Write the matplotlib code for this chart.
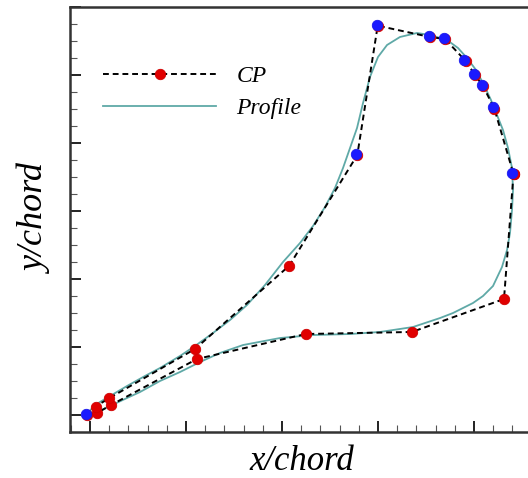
"""
Blade section: control polygon and fitted profile (x/chord vs y/chord).
"""

import matplotlib
matplotlib.use("Agg")
import matplotlib.pyplot as plt
import matplotlib.transforms as mtransforms
from matplotlib.ticker import MultipleLocator, NullFormatter

# ── Data ───────────────────────────────────────────────────────────────────
# control polygon, closed loop starting at the trailing-edge corner
cp_x = [0.8823, 0.8625, 0.6708, 0.4494, 0.2229, 0.0438, 0.0146, -0.0056,
        0.0115, 0.0406, 0.2188, 0.4152, 0.5569, 0.5994, 0.7083, 0.7396,
        0.7827, 0.8021, 0.8188, 0.8423, 0.8823]
cp_y = [0.3544, 0.1706, 0.1221, 0.1191, 0.0824, 0.0147, 0.0029, 0.0000,
        0.0125, 0.0250, 0.0971, 0.2196, 0.3824, 0.5725, 0.5559, 0.5529,
        0.5206, 0.5000, 0.4838, 0.4507, 0.3544]

# control points that are free in the optimisation (drawn blue)
free_x = [-0.0056, 0.5569, 0.5994, 0.7083, 0.7396, 0.7827, 0.8021, 0.8188,
          0.8423, 0.8823]
free_y = [0.0000, 0.3824, 0.5725, 0.5559, 0.5529, 0.5206, 0.5000, 0.4838,
          0.4507, 0.3544]

# profile, leading edge -> suction side -> trailing edge -> pressure side
prof_x = [-0.0083, 0.0104, 0.0417, 0.0771, 0.1146, 0.1458, 0.1875, 0.2188,
          0.2563, 0.2917, 0.3271, 0.3646, 0.4021, 0.4375, 0.4646, 0.4896,
          0.5104, 0.5271, 0.5417, 0.5563, 0.5688, 0.5833, 0.6000, 0.6188,
          0.6458, 0.6813, 0.7083, 0.7438, 0.7667, 0.7854, 0.8042, 0.8208,
          0.8354, 0.8479, 0.8604, 0.8708, 0.8792, 0.8813, 0.8792, 0.8750,
          0.8688, 0.8583, 0.8396, 0.8188, 0.7979, 0.7563, 0.7292, 0.6729,
          0.6042, 0.5417, 0.4646, 0.3958, 0.3188, 0.2708, 0.2292, 0.1875,
          0.1458, 0.1042, 0.0771, 0.0417, 0.0104, -0.0083]
prof_y = [0.0000, 0.0147, 0.0279, 0.0426, 0.0574, 0.0691, 0.0868, 0.1015,
          0.1206, 0.1397, 0.1618, 0.1912, 0.2250, 0.2529, 0.2779, 0.3059,
          0.3338, 0.3632, 0.3926, 0.4221, 0.4588, 0.4971, 0.5265, 0.5441,
          0.5559, 0.5618, 0.5588, 0.5515, 0.5397, 0.5250, 0.5074, 0.4853,
          0.4632, 0.4412, 0.4191, 0.3926, 0.3632, 0.3309, 0.3015, 0.2676,
          0.2426, 0.2176, 0.1897, 0.1750, 0.1647, 0.1500, 0.1426, 0.1294,
          0.1221, 0.1191, 0.1176, 0.1132, 0.1029, 0.0912, 0.0779, 0.0632,
          0.0500, 0.0338, 0.0250, 0.0132, 0.0029, 0.0000]

SERIF = ["Liberation Serif", "DejaVu Serif"]

# ── Figure ─────────────────────────────────────────────────────────────────
fig = plt.figure(figsize=(5.28, 4.78), dpi=100)
ax = fig.add_axes([70 / 528, 46 / 478, 464 / 528, 425 / 478])

ax.plot(cp_x, cp_y, color="black", linestyle=(0, (3, 2)), linewidth=1.4,
        marker="o", markersize=7.5, markerfacecolor="#e00000",
        markeredgecolor="#d00000", markeredgewidth=0.6, label="CP", zorder=3)

shift = mtransforms.ScaledTranslation(-1.2 / 100, 1.2 / 100, fig.dpi_scale_trans)
ax.plot(free_x, free_y, linestyle="none", marker="o", markersize=7.5,
        markerfacecolor="#1a1aff", markeredgecolor="#1a1aee",
        markeredgewidth=0.6, transform=ax.transData + shift, zorder=4)

ax.plot(prof_x, prof_y, color="#5fa9a7", linewidth=1.3, label="Profile",
        zorder=2)

ax.set_xlim(-20 / 480, 444 / 480)
ax.set_ylim(-0.025, 0.6)

ax.xaxis.set_major_locator(MultipleLocator(0.2))
ax.xaxis.set_minor_locator(MultipleLocator(0.04))
ax.yaxis.set_major_locator(MultipleLocator(0.1))
ax.yaxis.set_minor_locator(MultipleLocator(0.025))
ax.xaxis.set_major_formatter(NullFormatter())
ax.yaxis.set_major_formatter(NullFormatter())
ax.tick_params(which="both", direction="in", top=False, right=False,
               color="#222222")
ax.tick_params(which="major", length=8, width=1.4)
ax.tick_params(which="minor", length=5, width=0.8, color="#555555")

for side in ["left", "bottom", "top"]:
    ax.spines[side].set_linewidth(1.8)
    ax.spines[side].set_color("#333333")
ax.spines["right"].set_visible(False)

ax.set_xlabel("x/chord", fontsize=25, fontstyle="italic", family=SERIF,
              labelpad=6)
ax.set_ylabel("y/chord", fontsize=26, fontstyle="italic", family=SERIF,
              labelpad=9)

leg = ax.legend(loc="upper left", bbox_to_anchor=(0.071, 0.862),
                frameon=False, handlelength=4.8, handletextpad=0.85,
                labelspacing=0.45, borderpad=0, borderaxespad=0,
                prop={"family": SERIF, "style": "italic", "size": 17})

fig.savefig("out.png", dpi=100)
plt.close(fig)
